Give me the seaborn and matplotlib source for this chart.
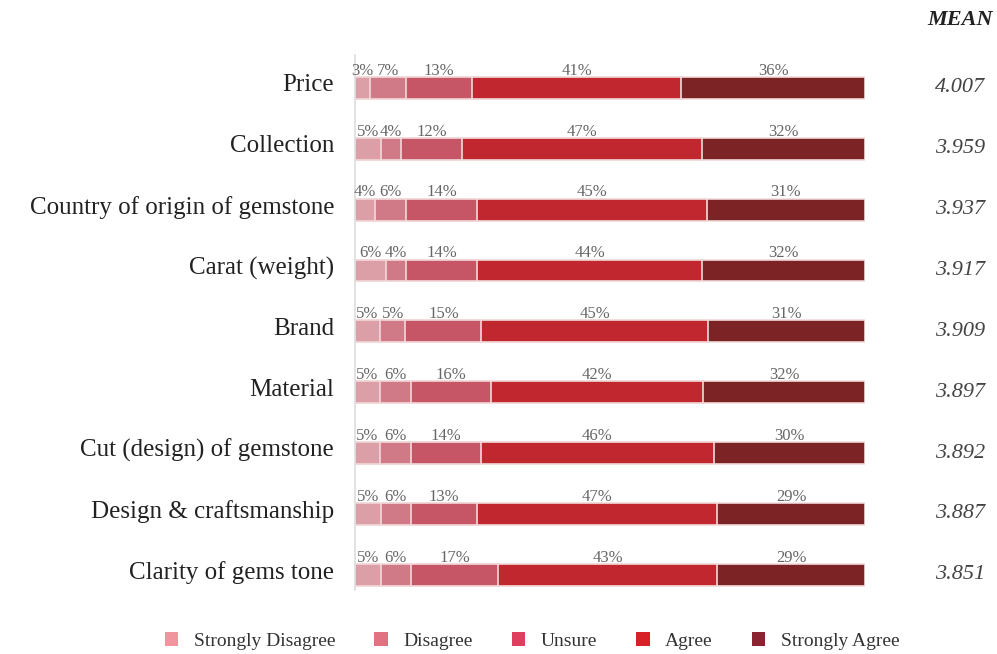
import numpy as np
import pandas as pd
import matplotlib
matplotlib.use("Agg")
import matplotlib.pyplot as plt
from matplotlib.patches import Patch
import matplotlib.transforms as mtransforms
import seaborn as sns

sns.set_style("white")
plt.rcParams['font.family'] = ['Liberation Serif', 'DejaVu Serif']

# data
categories = ["Price", "Collection", "Country of origin of gemstone", "Carat (weight)",
              "Brand", "Material", "Cut (design) of gemstone", "Design & craftsmanship",
              "Clarity of gems tone"]
levels = ["Strongly Disagree", "Disagree", "Unsure", "Agree", "Strongly Agree"]
strongly_disagree = [3, 5, 4, 6, 5, 5, 5, 5, 5]
disagree = [7, 4, 6, 4, 5, 6, 6, 6, 6]
unsure = [13, 12, 14, 14, 15, 16, 14, 13, 17]
agree = [41, 47, 45, 44, 45, 42, 46, 47, 43]
strongly_agree = [36, 32, 31, 32, 31, 32, 30, 29, 29]
means = ["4.007", "3.959", "3.937", "3.917", "3.909", "3.897", "3.892", "3.887", "3.851"]

bar_colors = ["#dc9ea7", "#d07a87", "#c65566", "#c1272f", "#7c2326"]
legend_colors = ["#f0959e", "#e07282", "#df3f5e", "#d82027", "#8a2430"]

vals = np.array([strongly_disagree, disagree, unsure, agree, strongly_agree], dtype=float).T
pct = vals / vals.sum(axis=1, keepdims=True) * 100
cum = np.cumsum(pct, axis=1)

fig = plt.figure(figsize=(9.97, 6.54), dpi=100)
ax = fig.add_axes([355 / 997, 1 - 590 / 654, 510 / 997, 535 / 654])

bar_h = 0.36
# draw cumulative totals from the largest down so each segment shows
for j in range(4, -1, -1):
    df = pd.DataFrame({"cat": categories, "val": cum[:, j]})
    sns.barplot(data=df, x="val", y="cat", orient="h", color=bar_colors[j],
                saturation=1, width=bar_h, edgecolor="#f2dada", linewidth=1.2, ax=ax)

for i in range(len(categories)):
    for j in range(5):
        xc = cum[i, j] - pct[i, j] / 2
        ax.text(xc, i - bar_h / 2 + 0.03, "%d%%" % vals[i, j], ha="center", va="bottom",
                fontsize=12, color="#666666")

trans = mtransforms.blended_transform_factory(ax.transAxes, ax.transData)
for i, m in enumerate(means):
    ax.text(1.186, i, m, transform=trans, ha="center", va="center",
            fontsize=16, style="italic", color="#444444")
fig.text(960 / 997, 1 - 20 / 654, "MEAN", ha="center", va="center", fontsize=16,
         style="italic", weight="bold", color="#222222")

ax.set_xlim(0, 100)
ax.set_ylim(8.25, -0.54)
ax.set_xlabel("")
ax.set_ylabel("")
ax.set_xticks([])
ax.tick_params(axis="y", length=0, labelsize=18, labelcolor="#222222", pad=15)
shift = mtransforms.ScaledTranslation(0, 0.05, fig.dpi_scale_trans)
for lab in ax.get_yticklabels():
    lab.set_transform(lab.get_transform() + shift)
for s in ["top", "right", "bottom"]:
    ax.spines[s].set_visible(False)
ax.spines["left"].set_color("#dddddd")
ax.spines["left"].set_linewidth(1.2)

handles = [Patch(facecolor=c, edgecolor="none", label=l) for c, l in zip(legend_colors, levels)]
fig.legend(handles=handles, loc="center", bbox_to_anchor=(532 / 997, 1 - 641 / 654), ncol=5,
           frameon=False, fontsize=14, handlelength=0.7, handleheight=0.7,
           handletextpad=0.8, columnspacing=2.0, labelcolor="#333333")

fig.savefig("out.png", dpi=100)
